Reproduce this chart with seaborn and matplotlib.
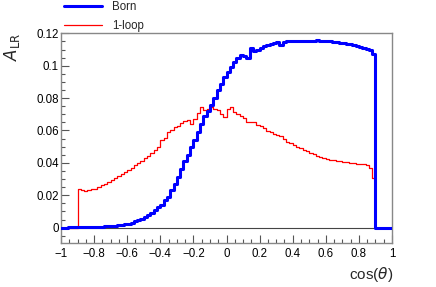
import numpy as np
import pandas as pd
import seaborn as sns
import matplotlib
matplotlib.use("Agg")
import matplotlib.pyplot as plt
from matplotlib.ticker import MultipleLocator, FuncFormatter

### bin edges: 100 bins of 0.02 from -1 to 1
edges = np.round(np.arange(-1.0, 1.0001, 0.02), 2)

### Born
born = [
    0.0000, 0.0000, 0.0001, 0.0001, 0.0001, 0.0002, 0.0002, 0.0002, 0.0003, 0.0003,
    0.0004, 0.0005, 0.0006, 0.0007, 0.0008, 0.0010, 0.0012, 0.0015, 0.0018, 0.0020,
    0.0023, 0.0030, 0.0040, 0.0045, 0.0055, 0.0068, 0.0080, 0.0090, 0.0110, 0.0125,
    0.0140, 0.0170, 0.0190, 0.0230, 0.0270, 0.0310, 0.0360, 0.0410, 0.0450, 0.0500,
    0.0540, 0.0590, 0.0640, 0.0690, 0.0720, 0.0760, 0.0800, 0.0850, 0.0890, 0.0930,
    0.0960, 0.0990, 0.1020, 0.1050, 0.1065, 0.1060, 0.1050, 0.1110, 0.1090, 0.1100,
    0.1110, 0.1120, 0.1130, 0.1135, 0.1140, 0.1145, 0.1130, 0.1145, 0.1150, 0.1152,
    0.1155, 0.1153, 0.1152, 0.1150, 0.1153, 0.1155, 0.1152, 0.1156, 0.1155, 0.1153,
    0.1152, 0.1150, 0.1148, 0.1145, 0.1142, 0.1140, 0.1137, 0.1133, 0.1128, 0.1123,
    0.1118, 0.1112, 0.1105, 0.1095, 0.1075, 0.0, 0.0, 0.0, 0.0, 0.0,
]

### 1-loop
oneloop = [
    0.0, 0.0, 0.0, 0.0, 0.0, 0.0240, 0.0232, 0.0228, 0.0232, 0.0236,
    0.0240, 0.0248, 0.0265, 0.0268, 0.0280, 0.0295, 0.0305, 0.0318, 0.0330, 0.0345,
    0.0355, 0.0370, 0.0385, 0.0398, 0.0410, 0.0430, 0.0445, 0.0460, 0.0480, 0.0500,
    0.0540, 0.0555, 0.0590, 0.0605, 0.0620, 0.0630, 0.0645, 0.0660, 0.0665, 0.0640,
    0.0670, 0.0710, 0.0745, 0.0725, 0.0735, 0.0745, 0.0730, 0.0725, 0.0700, 0.0685,
    0.0735, 0.0745, 0.0715, 0.0700, 0.0690, 0.0680, 0.0650, 0.0650, 0.0655, 0.0635,
    0.0625, 0.0615, 0.0595, 0.0590, 0.0580, 0.0572, 0.0565, 0.0550, 0.0530, 0.0520,
    0.0510, 0.0500, 0.0490, 0.0482, 0.0472, 0.0462, 0.0455, 0.0445, 0.0438, 0.0432,
    0.0425, 0.0420, 0.0415, 0.0412, 0.0410, 0.0407, 0.0403, 0.0400, 0.0397, 0.0394,
    0.0392, 0.0390, 0.0387, 0.0370, 0.0305, 0.0, 0.0, 0.0, 0.0, 0.0,
]

df = pd.DataFrame({
    "x": np.concatenate([edges, edges]),
    "y": np.concatenate([born + [born[-1]], oneloop + [oneloop[-1]]]),
    "series": ["Born"] * len(edges) + ["1-loop"] * len(edges),
})

sns.set_style("ticks")
plt.rcParams["font.family"] = ["Liberation Sans", "DejaVu Sans"]

fig = plt.figure(figsize=(4.36, 2.87), dpi=100)
ax = fig.add_axes([61 / 436, 44 / 287, 331 / 436, 210 / 287])

ax.axhline(0, color="#444444", lw=0.8, zorder=1)

sns.lineplot(data=df[df.series == "Born"], x="x", y="y", drawstyle="steps-post",
             color="#0000ff", lw=2.2, ax=ax, label="Born", zorder=3)
sns.lineplot(data=df[df.series == "1-loop"], x="x", y="y", drawstyle="steps-post",
             color="#ff0000", lw=0.9, ax=ax, label="1-loop", zorder=2)

ax.set_xlim(-1, 1)
ax.set_ylim(-0.0095, 0.1202)
ax.set_xlabel("")
ax.set_ylabel("")

fmt = FuncFormatter(lambda v, p: f"{round(v, 6):g}".replace("-", "\u2212"))
ax.xaxis.set_major_locator(MultipleLocator(0.2))
ax.xaxis.set_minor_locator(MultipleLocator(0.05))
ax.yaxis.set_major_locator(MultipleLocator(0.02))
ax.yaxis.set_minor_locator(MultipleLocator(0.005))
ax.xaxis.set_major_formatter(fmt)
ax.yaxis.set_major_formatter(fmt)
ax.tick_params(which="both", direction="in", color="#555555", labelcolor="black",
               labelsize=8.3, top=False, right=False, bottom=True, left=True)
ax.tick_params(which="major", length=5.5, width=0.8)
ax.tick_params(which="minor", length=2.8, width=0.8)
ax.tick_params(axis="x", which="both", pad=3.5)
ax.tick_params(axis="y", which="both", pad=1.5)

for s in ax.spines.values():
    s.set_visible(True)
    s.set_color("#888888")
    s.set_linewidth(1.0)

ax.legend(loc="upper left", bbox_to_anchor=(64 / 436, 1 - 1 / 287), bbox_transform=fig.transFigure,
          frameon=False, fontsize=8.3, handlelength=3.3, handletextpad=0.9,
          labelspacing=0.6, borderaxespad=0.0, borderpad=0.0)

fig.text(12 / 436, 1 - 47 / 287, r"$A_{\mathrm{LR}}$", rotation=90, ha="center",
         va="center", fontsize=12)
fig.text(393 / 436, 1 - 274 / 287, r"cos($\theta$)", ha="right", va="center", fontsize=11)

fig.savefig("out.png", dpi=100)
